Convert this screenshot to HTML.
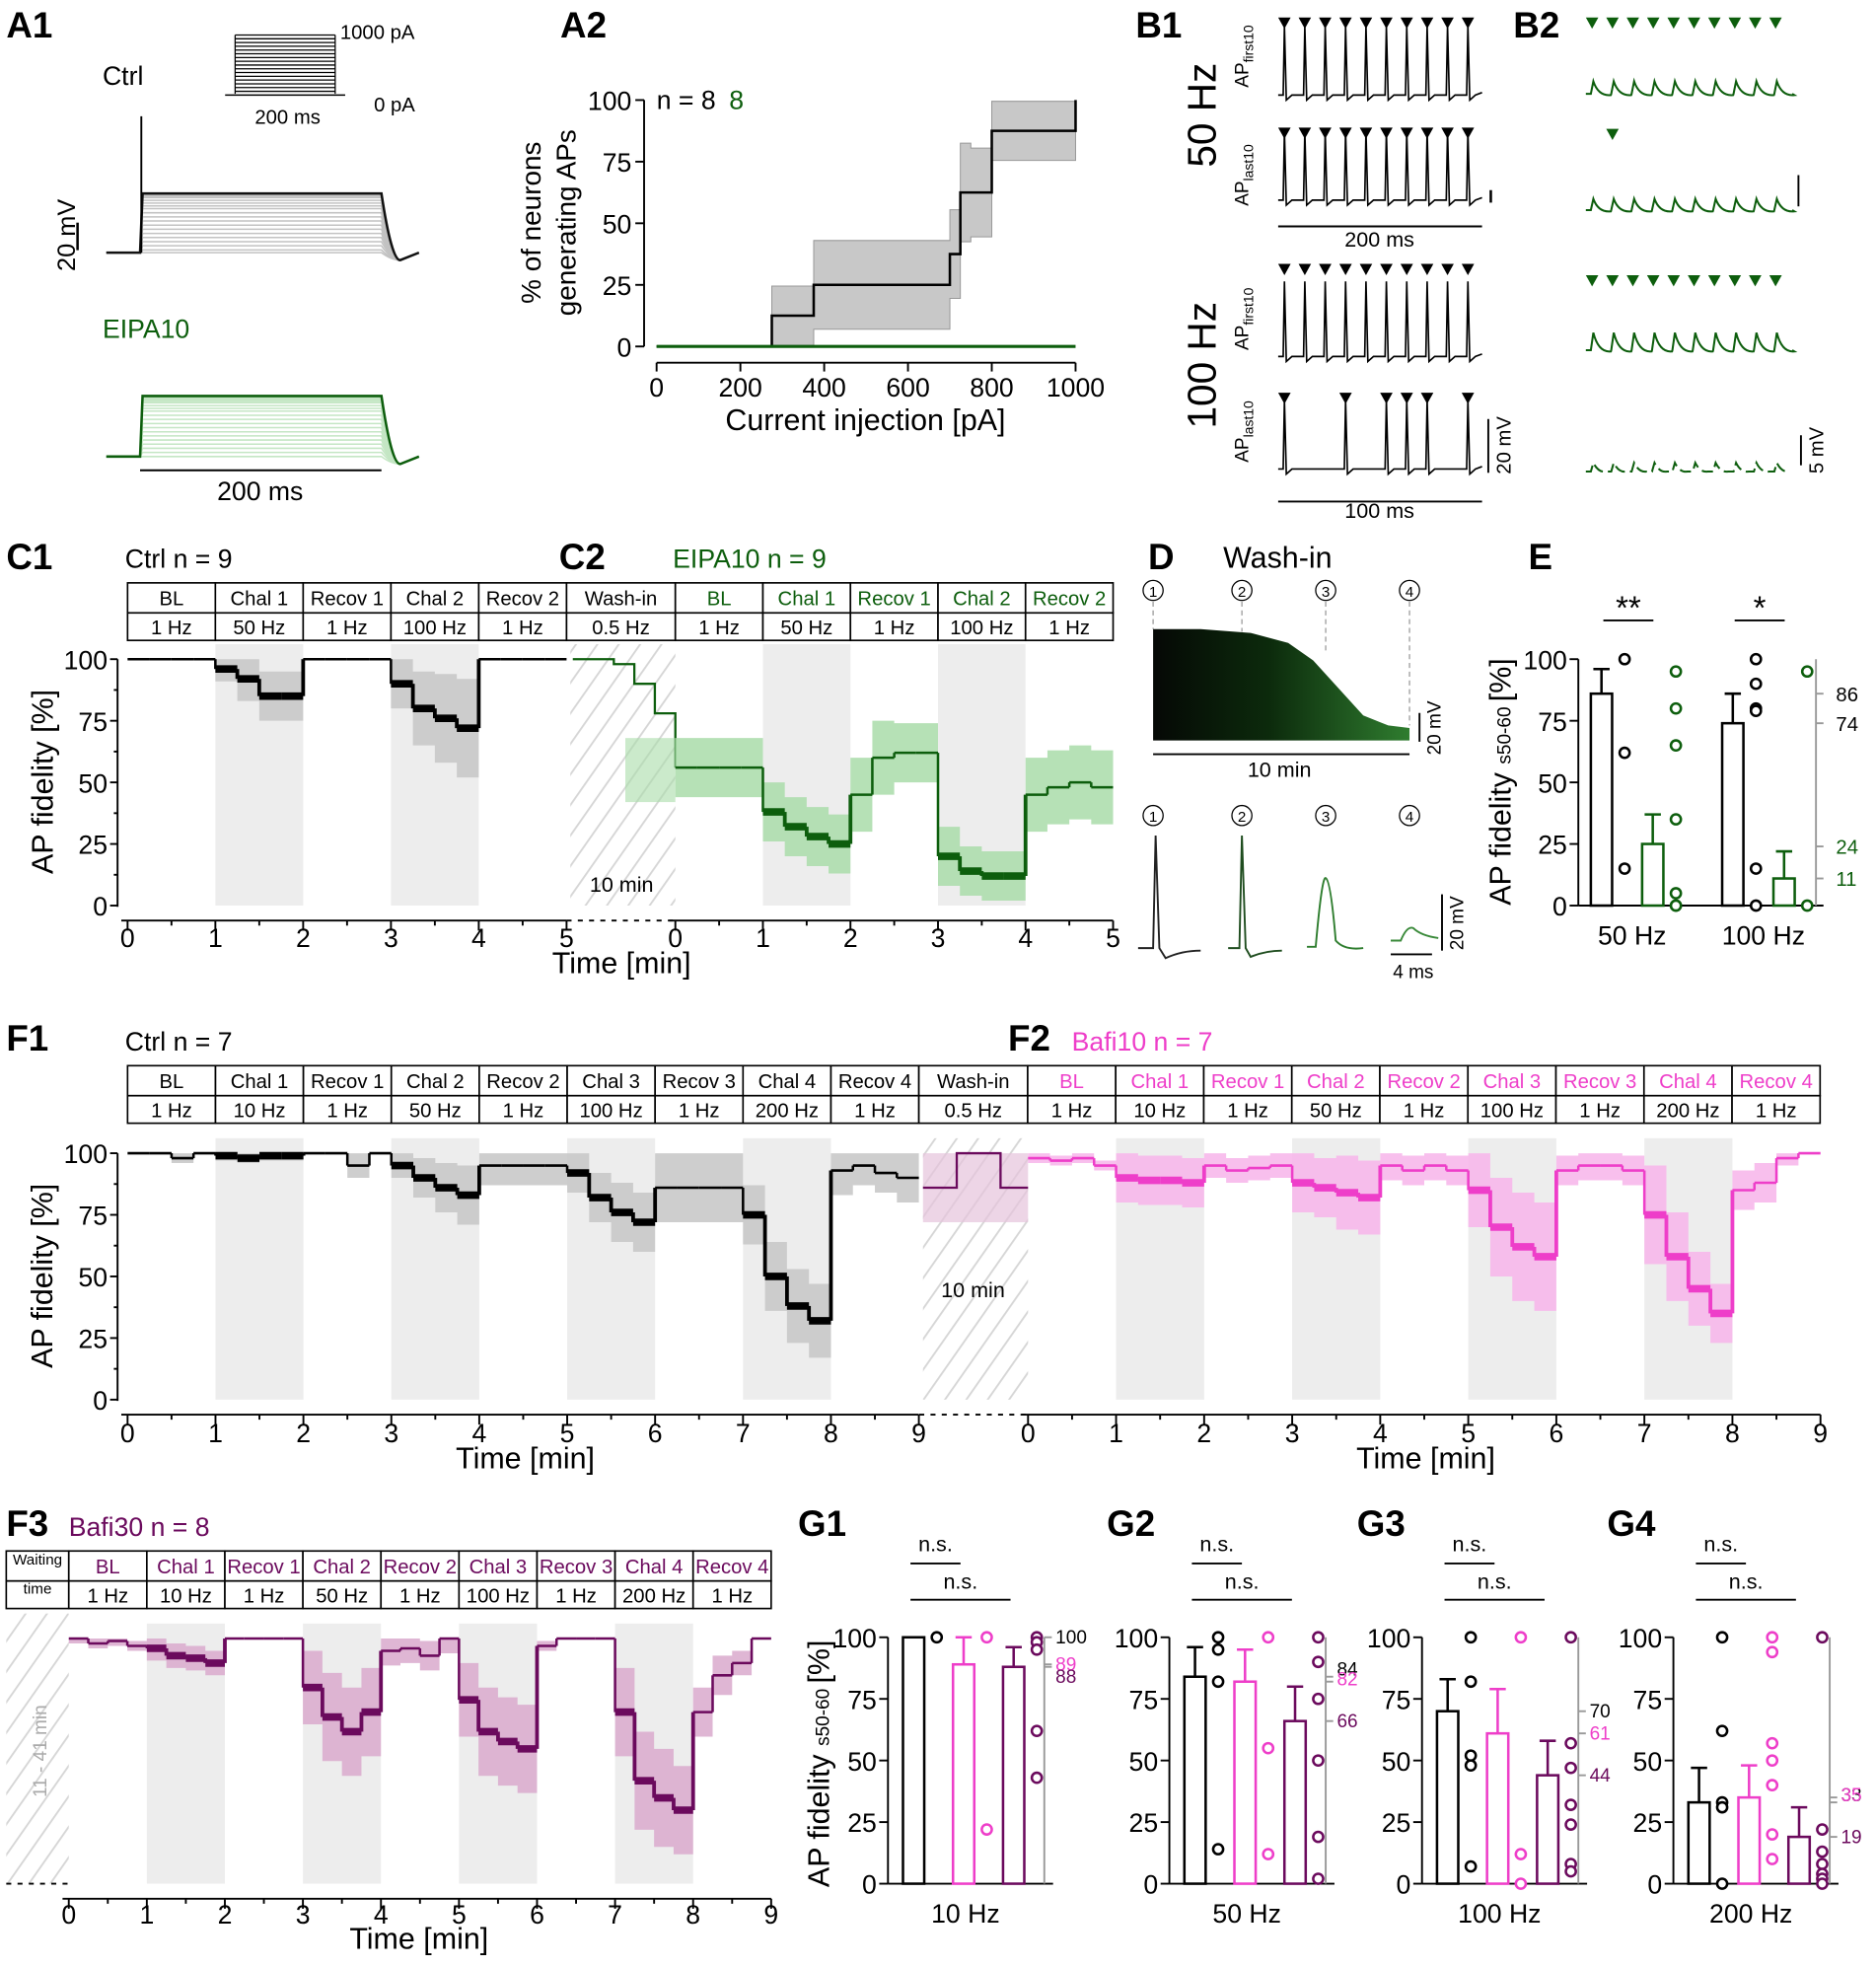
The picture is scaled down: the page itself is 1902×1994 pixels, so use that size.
<!DOCTYPE html>
<html><head><meta charset="utf-8"><title>AP fidelity figure</title>
<style>html,body{margin:0;padding:0;background:#fff}svg{display:block;font-family:"Liberation Sans",Arial,sans-serif}</style>
</head><body>
<svg id="fig" width="1902" height="1994" viewBox="0 0 1500 1572.6" preserveAspectRatio="none" xmlns="http://www.w3.org/2000/svg">
<defs>
<pattern id="hatch" patternUnits="userSpaceOnUse" width="14" height="14" patternTransform="rotate(35)"><rect width="14" height="14" fill="#fff"/><line x1="0" y1="0" x2="0" y2="14" stroke="#d6d6d6" stroke-width="3"/></pattern>
<linearGradient id="washg" x1="0" x2="1" y1="0" y2="0"><stop offset="0" stop-color="#050805"/><stop offset="0.45" stop-color="#0c2a0c"/><stop offset="1" stop-color="#2f7d2f"/></linearGradient>
</defs>
</svg>
<script>
// ---------- data ----------
const aCurrents=[0,250,275,375,650,700,725,750,800,975,1000];
const aCtrlPct=[0,0,12.5,25,25,37.5,62.5,62.5,87.5,87.5,100];
const aCtrlSem=[0,0,12,18,18,18,20,18,12,12,0];
const aEipaPct=[0,0,0,0,0,0,0,0,0,0,0];
const a1CtrlLevels=[0,2,5,8,11,14,17,20,23,26,29,32,34,36,38,40,41,42,43];
const a1EipaLevels=[0,3,6,9,12,15,18,21,24,27,30,33,35,37,39,40,41,42,43,44];
const c1Mean=[100,100,100,100,96,92,85,85,100,100,100,100,90,80,76,72,100,100,100,100,100];
const c1Band=[0,0,0,0,5,9,10,10,0,0,0,0,10,15,18,20,0,0,0,0,0];
const c2Wash=[100,100,98,90,78,56];
const c2Mean=[56,56,56,56,38,32,28,25,45,60,62,62,20,14,12,12,45,48,50,48,48];
const c2Band=[12,12,12,12,12,12,12,12,15,15,12,12,12,10,10,10,15,15,15,15,15];
const f1Mean=[100,100,98,100,99,98,99,99,100,100,95,100,95,90,86,83,95,95,95,95,92,82,76,72,86,86,86,86,75,50,38,32,93,95,92,90,90];
const f1Band=[0,0,2,0,2,2,2,2,0,0,5,0,5,8,10,12,8,8,8,8,8,10,12,12,14,14,14,14,12,14,15,15,10,8,8,10,10];
const f2Mean=[98,97,98,95,90,89,89,88,95,93,94,95,88,86,84,82,95,93,95,93,85,70,62,58,93,95,95,93,75,58,45,35,85,88,98,100,100];
const f2Band=[2,2,2,2,10,10,10,10,5,5,5,5,12,12,15,15,6,6,6,6,15,20,22,22,6,6,6,6,20,18,15,12,8,8,3,0,0];
const f3Mean=[100,98,99,97,96,93,92,90,100,100,100,100,80,68,62,70,95,96,93,100,75,62,58,55,97,100,100,100,70,42,35,30,70,85,90,100,100];
const f3Band=[2,2,2,2,5,5,5,5,0,0,0,0,15,18,18,18,6,6,6,6,15,18,18,18,2,0,0,0,18,20,20,18,10,8,5,0,0];
const eMeans=[86,25,74,11];
const eErr=[96,37,86,22];
const ePoints=[[100,62,15],[95,80,65,35,5,0,0],[100,90,80,79,15,0],[95,0]];
const gFreqs=["10 Hz","50 Hz","100 Hz","200 Hz"];
const gMeans=[[100,89,88],[84,82,66],[70,61,44],[33,35,19]];
const gErr=[[100,100,96],[96,95,80],[83,79,58],[47,48,31]];
const gPoints=[
 [[100],[100,22],[100,98,95,62,43]],
 [[100,95,82,14],[100,55,12],[100,90,75,50,19,2]],
 [[100,82,52,48,7],[100,12,0],[100,57,47,32,24,8,5]],
 [[100,62,33,31,0],[100,94,57,50,40,20,10],[100,22,13,8,4,2,0]]];

// ---------- helpers ----------
const NS="http://www.w3.org/2000/svg";
const svg=document.getElementById('fig');
function el(tag,attrs,name,parent){
 const e=document.createElementNS(NS,tag);
 for(const k in attrs) e.setAttribute(k,attrs[k]);
 
 
 (parent||svg).appendChild(e);
 return e;
}
function tx(x,y,s,size,name,o){
 o=o||{};
 const a={x:x,y:y,'font-size':size,fill:o.fill||'#000','text-anchor':o.anchor||'start'};
 if(o.bold) a['font-weight']='bold';
 if(o.rot!==undefined) a.transform='rotate('+o.rot+' '+x+' '+y+')';
 const t=el('text',a,name,o.parent);
 t.textContent=s;
 return t;
}
function ln(x1,y1,x2,y2,name,o){
 o=o||{};
 return el('line',{x1:x1,y1:y1,x2:x2,y2:y2,stroke:o.stroke||'#000','stroke-width':o.w||1.5,'stroke-dasharray':o.dash||'none'},name);
}
function pth(d,name,o){
 o=o||{};
 return el('path',{d:d,fill:o.fill||'none',stroke:o.stroke||'none','stroke-width':o.w||1.5,opacity:o.op||1},name);
}
const GREEN='#0d5e0d', LGREEN='#a9dca9', PINK='#ee3ec9', LPINK='#f7b4ea', PURP='#6b0a5d', LPURP='#d9a9cd', GRAY='#c6c6c6';

// panel labels
[["A1",5,30],["A2",448,30],["B1",908,30],["B2",1210,30],["C1",5,455],["C2",447,455],["D",918,455],["E",1222,455],["F1",5,840],["F2",806,840],["F3",5,1228],["G1",638,1228],["G2",885,1228],["G3",1085,1228],["G4",1285,1228]].forEach(p=>{
 tx(p[1],p[2],p[0],29,'panel-label-'+p[0].toLowerCase(),{bold:true});
});

// ---------- A1 ----------
(function(){
 const g=el('g',{},'a1-traces');
 const bx0=85,bx1=112,bx2=305,bx3=335;
 function drawSet(levels,base,lightCol,darkCol,name){
  levels.forEach((lv,i)=>{
   const y=base-lv*1.1;
   const d='M'+bx0+' '+base+' L'+bx1+' '+base+' L'+(bx1+2)+' '+y+' L'+bx2+' '+y+' Q'+(bx2+8)+' '+(base+6)+' '+(bx2+15)+' '+(base+6)+' L'+bx3+' '+base;
   const last=i===levels.length-1;
   el('path',{d:d,fill:'none',stroke:last?darkCol:lightCol,'stroke-width':last?2:1.2},name+'-sweep',g);
  });
 }
 drawSet(a1CtrlLevels,202,'#c2c2c2','#111','ctrl');
 ln(113,202,113,93,'ctrl-spike',{w:1.5});
 drawSet(a1EipaLevels,365,'#c4e6c4',GREEN,'eipa');
 tx(82,68,'Ctrl',21,'ctrl-label');
 tx(82,270,'EIPA10',21,'eipa-label',{fill:GREEN});
 for(let i=0;i<16;i++){const y=28+i*3;ln(188,y,268,y,'stim-step',{w:1});}
 ln(188,28,188,75,'stim-edge',{w:1});ln(268,28,268,75,'stim-edge',{w:1});
 ln(180,76,276,76,'stim-base',{w:1.2});
 tx(272,31,'1000 pA',16,'stim-max-label');
 tx(299,89,'0 pA',16,'stim-min-label');
 tx(230,99,'200 ms',16,'stim-time-label',{anchor:'middle'});
 ln(62,178,62,200,'a1-scale-mv',{w:2});
 tx(60,188,'20 mV',20,'a1-scale-mv-label',{rot:-90,anchor:'middle'});
 ln(112,376,305,376,'a1-scale-ms',{w:1.5});
 tx(208,400,'200 ms',21,'a1-scale-ms-label',{anchor:'middle'});
})();

// ---------- A2 ----------
(function(){
 const x0=525,x1=860,y0=277,y1=80;
 const xs=v=>x0+(x1-x0)*v/1000, ys=v=>y0-(y0-y1)*v/100;
 ln(x0,y0+13,x1,y0+13,'a2-x-axis');
 ln(x0-10,y1,x0-10,y0,'a2-y-axis');
 [0,200,400,600,800,1000].forEach(v=>{ln(xs(v),y0+13,xs(v),y0+20,'a2-x-tick');tx(xs(v),y0+40,String(v),21,'a2-x-tick-label',{anchor:'middle'});});
 [0,25,50,75,100].forEach(v=>{ln(x0-17,ys(v),x0-10,ys(v),'a2-y-tick');tx(x0-20,ys(v)+8,String(v),21,'a2-y-tick-label',{anchor:'end'});});
 tx(692,344,'Current injection [pA]',24,'a2-x-title',{anchor:'middle'});
 tx(432,178,'% of neurons',22,'a2-y-title-1',{rot:-90,anchor:'middle'});
 tx(460,178,'generating APs',22,'a2-y-title-2',{rot:-90,anchor:'middle'});
 // step-style band & line
 let up='',lo=[],mid='';
 for(let i=0;i<aCurrents.length-1;i++){
  const xa=xs(aCurrents[i]),xb=xs(aCurrents[i+1]),v=aCtrlPct[i],s=aCtrlSem[i];
  up+=(i?'L':'M')+xa+' '+ys(Math.min(100,v+s))+' L'+xb+' '+ys(Math.min(100,v+s))+' ';
  lo.push(xa+' '+ys(Math.max(0,v-s)));lo.push(xb+' '+ys(Math.max(0,v-s)));
  mid+=(i?'L':'M')+xa+' '+ys(v)+' L'+xb+' '+ys(v)+' ';
 }
 const n=aCurrents.length-1;
 mid+='L'+xs(aCurrents[n])+' '+ys(aCtrlPct[n]);
 pth(up+'L'+lo.reverse().join(' L')+' Z','a2-ctrl-band',{fill:'#c8c8c8',stroke:'#999',w:0.8});
 pth(mid,'a2-ctrl-line',{stroke:'#000',w:2});
 pth('M'+aCurrents.map((c,i)=>xs(c)+' '+ys(aEipaPct[i])).join(' L'),'a2-eipa-line',{stroke:GREEN,w:2.5});
 tx(525,87,'n = 8',21,'a2-n-ctrl');
 tx(583,87,'8',21,'a2-n-eipa',{fill:GREEN});
})();

// ---------- B1 / B2 ----------
(function(){
 function spikes(x0,yb,times,h,col,name,thin){
  let d='M'+x0+' '+yb;
  times.forEach(t=>{const x=x0+5+t*16.3;d+=' L'+(x-1)+' '+yb+' L'+x+' '+(yb-h)+' L'+(x+1.5)+' '+(yb+4)+' L'+(x+6)+' '+yb;});
  d+=' L'+(x0+163)+' '+(yb-2);
  pth(d,name,{stroke:col,w:thin||1.3});
 }
 function tris(x0,y,idx,col,name){idx.forEach(i=>{const x=x0+5+i*16.3;pth('M'+(x-5)+' '+y+' L'+(x+5)+' '+y+' L'+x+' '+(y+9)+' Z',name,{fill:col});});}
 const all=[0,1,2,3,4,5,6,7,8,9];
 const bx=1022;
 tris(bx,14,all,'#000','b1-50hz-first-marker');spikes(bx,76,all,55,'#000','b1-50hz-first-trace');
 tris(bx,102,all,'#000','b1-50hz-last-marker');spikes(bx,160,all,55,'#000','b1-50hz-last-trace');
 tris(bx,211,all,'#000','b1-100hz-first-marker');spikes(bx,285,all,60,'#000','b1-100hz-first-trace');
 tris(bx,314,[0,3,5,6,7,9],'#000','b1-100hz-last-marker');spikes(bx,375,[0,3,5,6,7,9],55,'#000','b1-100hz-last-trace');
 ln(1022,181,1185,181,'b1-scale-200ms');tx(1103,197,'200 ms',17,'b1-scale-200ms-label',{anchor:'middle'});
 ln(1022,401,1185,401,'b1-scale-100ms');tx(1103,414,'100 ms',17,'b1-scale-100ms-label',{anchor:'middle'});
 ln(1192,152,1192,162,'b1-scale-mv',{w:2});
 ln(1190,335,1190,378,'b1-scale-20mv',{w:1.5});tx(1208,356,'20 mV',16,'b1-scale-20mv-label',{rot:-90,anchor:'middle'});
 tx(972,92,'50 Hz',32,'b1-50hz-label',{rot:-90,anchor:'middle'});
 tx(972,292,'100 Hz',32,'b1-100hz-label',{rot:-90,anchor:'middle'});
 [['AP',75,'first10',45],['AP',162,'last10',140],['AP',287,'first10',255],['AP',378,'last10',345]].forEach((a,i)=>{
  const t=tx(998,a[3],'AP',15,'b1-trace-label',{rot:-90,anchor:'middle'});
  const s=document.createElementNS(NS,'tspan');s.setAttribute('font-size','11');s.setAttribute('dy','4');s.textContent=a[2];t.appendChild(s);
 });
 const gx=1268;
 function bumps(x0,yb,n,amp,name){
  let d='M'+x0+' '+yb;
  for(let i=0;i<n;i++){const x=x0+4+i*16.3;d+=' L'+x+' '+yb+' L'+(x+2)+' '+(yb-amp)+' Q'+(x+6)+' '+(yb+2)+' '+(x+16)+' '+(yb+1);}
  d+=' L'+(x0+165)+' '+yb;
  pth(d,name,{stroke:GREEN,w:1.6});
 }
 tris(gx,14,all,GREEN,'b2-50hz-first-marker');bumps(gx,75,10,10,'b2-50hz-first-trace');
 tris(gx,103,[1],GREEN,'b2-50hz-last-marker');bumps(gx,168,10,9,'b2-50hz-last-trace');
 tris(gx,220,all,GREEN,'b2-100hz-first-marker');bumps(gx,280,10,14,'b2-100hz-first-trace');
 el('path',{d:'M1268 377 '+all.map(i=>'L'+(1272+i*16.3)+' 377 L'+(1274+i*16.3)+' 370 Q'+(1278+i*16.3)+' 378 '+(1284+i*16.3)+' 377').join(' '),fill:'none',stroke:GREEN,'stroke-width':1.6,'stroke-dasharray':'9 4'},'b2-100hz-last-trace');
 ln(1438,140,1438,165,'b2-scale-mv',{w:1.5});
 ln(1440,348,1440,372,'b2-scale-5mv',{w:1.5});tx(1458,360,'5 mV',16,'b2-scale-5mv-label',{rot:-90,anchor:'middle'});
})();

// ---------- tables ----------
function table(x0,widths,r1,r2,cols,y0,name,fs){
 let x=x0;
 widths.forEach((w,i)=>{
  el('rect',{x:x,y:y0,width:w,height:24,fill:'#fff',stroke:'#000','stroke-width':1.3},name+'-cell');
  el('rect',{x:x,y:y0+24,width:w,height:22,fill:'#fff',stroke:'#000','stroke-width':1.3},name+'-cell');
  const lines=r1[i].split('\n');
  if(lines.length>1){tx(x+w/2,y0+11,lines[0],12,name+'-header',{anchor:'middle',fill:cols[i]});tx(x+w/2,y0+34,lines[1],12,name+'-header',{anchor:'middle',fill:cols[i]});}
  else tx(x+w/2,y0+18,r1[i],fs||16,name+'-header',{anchor:'middle',fill:cols[i]});
  if(r2[i]) tx(x+w/2,y0+41,r2[i],fs||16,name+'-freq',{anchor:'middle'});
  x+=w;
 });
}
function tAxis(x0,ppm,n,y100,y0,yLabels,name,labelsY){
 const ys=v=>y0-(y0-y100)*v/100;
 ln(x0-5,y0+12,x0+n*ppm,y0+12,name+'-x-axis');
 for(let m=0;m<=n;m++){ln(x0+m*ppm,y0+12,x0+m*ppm,y0+20,name+'-x-tick');if(m<n)ln(x0+(m+0.5)*ppm,y0+12,x0+(m+0.5)*ppm,y0+16,name+'-x-minor-tick');tx(x0+m*ppm,labelsY,String(m),21,name+'-x-tick-label',{anchor:'middle'});}
 if(yLabels!==null){
  ln(x0-8,y100,x0-8,y0+1,name+'-y-axis');
  [0,25,50,75,100].forEach(v=>{ln(x0-14,ys(v),x0-8,ys(v),name+'-y-tick');if(yLabels)tx(x0-16,ys(v)+8,String(v),21,name+'-y-tick-label',{anchor:'end'});});
  [12.5,37.5,62.5,87.5].forEach(v=>ln(x0-11,ys(v),x0-8,ys(v),name+'-y-minor-tick'));
 }
}
function shade(x0,ppm,mins,y100,y0,name){mins.forEach(m=>el('rect',{x:x0+m*ppm,y:y100-12,width:ppm,height:y0-y100+12,fill:'#ededed'},name));}
function trace(mean,band,x0,ppm,y100,y0,col,bcol,chal,name){
 const ys=v=>y0-(y0-y100)*v/100, st=0.25;
 let up='',lo=[];
 for(let i=0;i<mean.length-1;i++){
  const xa=x0+i*st*ppm, xb=x0+(i+1)*st*ppm;
  up+=(i?'L':'M')+xa+' '+ys(Math.min(100,mean[i]+band[i]))+' L'+xb+' '+ys(Math.min(100,mean[i]+band[i]))+' ';
  lo.push(xa+' '+ys(mean[i]-band[i]));lo.push(xb+' '+ys(mean[i]-band[i]));
 }
 pth(up+'L'+lo.reverse().join(' L')+' Z',name+'-band',{fill:bcol,op:0.85});
 for(let i=0;i<mean.length-1;i++){
  const xa=x0+i*st*ppm, xb=x0+(i+1)*st*ppm;
  const inChal=chal.indexOf(Math.floor(i*st))>=0;
  el('line',{x1:xa,y1:ys(mean[i]),x2:xb,y2:ys(mean[i]),stroke:col,'stroke-width':inChal?6:2},name+'-segment');
  el('line',{x1:xb,y1:ys(mean[i]),x2:xb,y2:ys(mean[i+1]),stroke:col,'stroke-width':inChal?3:2},name+'-step');
 }
}

// ---------- C ----------
(function(){
 const y100=527,y0=724,p1=70.2,x1=102,x2=540,p2=70;
 tx(100,454,'Ctrl n = 9',21,'c1-title');
 tx(538,454,'EIPA10 n = 9',21,'c2-title',{fill:GREEN});
 const K='#000';
 table(102,[p1,p1,p1,p1,p1,87,p2,p2,p2,p2,p2],['BL','Chal 1','Recov 1','Chal 2','Recov 2','Wash-in','BL','Chal 1','Recov 1','Chal 2','Recov 2'],['1 Hz','50 Hz','1 Hz','100 Hz','1 Hz','0.5 Hz','1 Hz','50 Hz','1 Hz','100 Hz','1 Hz'],[K,K,K,K,K,K,GREEN,GREEN,GREEN,GREEN,GREEN],466,'c-table');
 shade(x1,p1,[1,3],y100,y0,'c1-challenge-shade');shade(x2,p2,[1,3],y100,y0,'c2-challenge-shade');
 el('rect',{x:456,y:y100-12,width:84,height:y0-y100+12,fill:'url(#hatch)'},'c-washin-hatch');
 tAxis(x1,p1,5,y100,y0,true,'c1',757);
 tAxis(x2,p2,5,y100,y0,null,'c2',757);
 ln(453,736,540,736,'c-washin-gap',{dash:'4 5'});
 tx(497,713,'10 min',17,'c-washin-label',{anchor:'middle'});
 tx(42,625,'AP fidelity [%]',24,'c-y-title',{rot:-90,anchor:'middle'});
 tx(497,778,'Time [min]',24,'c-x-title',{anchor:'middle'});
 trace(c1Mean,c1Band,x1,p1,y100,y0,'#000',GRAY,[1,3],'c1-trace');
 const ys=v=>y0-(y0-y100)*v/100;
 const wx=458, ws=(540-458)/(c2Wash.length-1);
 let wd='M'+wx+' '+ys(c2Wash[0]);
 c2Wash.forEach((v,i)=>{if(i)wd+=' L'+(wx+i*ws)+' '+ys(c2Wash[i-1])+' L'+(wx+i*ws)+' '+ys(v);});
 pth(wd,'c2-washin-trace',{stroke:GREEN,w:1.8});
 el('rect',{x:500,y:ys(68),width:40,height:ys(42)-ys(68),fill:LGREEN,opacity:0.6},'c2-washin-band');
 trace(c2Mean,c2Band,x2,p2,y100,y0,GREEN,LGREEN,[1,3],'c2-trace');
})();

// ---------- D ----------
(function(){
 tx(978,454,'Wash-in',24,'d-title');
 const cx=[922,993,1060,1127];
 cx.forEach((x,i)=>{
  el('circle',{cx:x,cy:472,r:8,fill:'none',stroke:'#000','stroke-width':1},'d-marker-circle');
  tx(x,477,String(i+1),12,'d-marker-number',{anchor:'middle'});
  ln(x,481,x,[503,505,520,580][i],'d-marker-line',{stroke:'#999',dash:'4 3',w:1});
  el('circle',{cx:x,cy:652,r:8,fill:'none',stroke:'#000','stroke-width':1},'d-lower-circle');
  tx(x,657,String(i+1),12,'d-lower-number',{anchor:'middle'});
 });
 pth('M922 503 L960 503 L1000 506 L1030 514 L1050 528 L1070 550 L1090 572 L1110 580 L1127 582 L1127 592 L922 592 Z','d-washin-envelope',{fill:'url(#washg)'});
 ln(922,603,1127,603,'d-scale-10min');tx(1023,621,'10 min',17,'d-scale-10min-label',{anchor:'middle'});
 ln(1135,570,1135,593,'d-scale-20mv');tx(1152,582,'20 mV',15,'d-scale-20mv-label',{rot:-90,anchor:'middle'});
 pth('M910 758 L922 758 L924 668 L927 758 L932 766 Q945 760 960 760','d-ap-1',{stroke:'#222',w:1.5});
 pth('M982 758 L991 758 L993 668 L996 758 L1000 765 Q1012 760 1025 760','d-ap-2',{stroke:'#1f4d1f',w:1.5});
 pth('M1045 757 L1052 757 Q1057 700 1060 702 Q1064 704 1068 752 Q1075 760 1090 758','d-ap-3',{stroke:'#2e7d2e',w:1.5});
 pth('M1112 752 L1120 752 Q1125 740 1130 742 Q1136 748 1150 750','d-ap-4',{stroke:'#3a8a3a',w:1.5});
 ln(1153,715,1153,760,'d-scale-20mv-ap');tx(1170,738,'20 mV',15,'d-scale-ap-label',{rot:-90,anchor:'middle'});
 ln(1112,763,1145,763,'d-scale-4ms');tx(1130,782,'4 ms',15,'d-scale-4ms-label',{anchor:'middle'});
})();

// ---------- bar panels ----------
function barPanel(ax,y100,y0,bars,means,errs,pts,cols,rightX,labels,labCols,name,ptsOff){
 const ys=v=>y0-(y0-y100)*v/100;
 ln(ax,y100,ax,y0,name+'-y-axis');
 [0,25,50,75,100].forEach(v=>{ln(ax-7,ys(v),ax,ys(v),name+'-y-tick');tx(ax-9,ys(v)+8,String(v),21,name+'-y-tick-label',{anchor:'end'});});
 ln(ax,y0,bars[bars.length-1]+40,y0,name+'-x-axis');
 bars.forEach((bx,i)=>{
  el('rect',{x:bx,y:ys(means[i]),width:17,height:y0-ys(means[i]),fill:'#fff',stroke:cols[i],'stroke-width':2},name+'-bar');
  if(errs[i]>means[i]){ln(bx+8.5,ys(means[i]),bx+8.5,ys(errs[i]),name+'-error-bar',{stroke:cols[i],w:2});ln(bx+2,ys(errs[i]),bx+15,ys(errs[i]),name+'-error-cap',{stroke:cols[i],w:2});}
  pts[i].forEach(v=>el('circle',{cx:bx+(ptsOff||27),cy:ys(v),r:4,fill:'#fff',stroke:cols[i],'stroke-width':2},name+'-point'));
 });
 if(rightX){
  ln(rightX,y100,rightX,y0,name+'-right-axis',{stroke:'#999'});
  labels.forEach((v,i)=>{ln(rightX,ys(v),rightX+6,ys(v),name+'-right-tick',{stroke:'#999'});tx(rightX+9,ys(v)+5+(i===1&&Math.abs(labels[0]-labels[1])<5?-2:0)+(i===2&&Math.abs(labels[2]-labels[1])<5?8:0)+(i===0&&Math.abs(labels[0]-labels[1])<5?-6:0),String(v),15,name+'-mean-label',{fill:labCols[i]});});
 }
}
(function(){
 const y100=527,y0=724,ys=v=>y0-(y0-y100)*v/100;
 barPanel(1262,y100,y0,[1272,1313,1377,1418],eMeans,eErr,ePoints,['#000',GREEN,'#000',GREEN],null,[],[],'e',27);
 ln(1452,y100,1452,y0,'e-right-axis',{stroke:'#999'});
 [86,74,24,11].forEach((v,i)=>{ln(1452,ys(v),1458,ys(v),'e-right-tick',{stroke:'#999'});tx(1468,ys(v)+6,String(v),16,'e-mean-label',{fill:i<2?'#000':GREEN});});
 ln(1282,496,1322,496,'e-sig-line-50');tx(1302,495,'**',26,'e-sig-50',{anchor:'middle'});
 ln(1387,496,1427,496,'e-sig-line-100');tx(1407,495,'*',26,'e-sig-100',{anchor:'middle'});
 tx(1305,755,'50 Hz',21,'e-x-label-50',{anchor:'middle'});
 tx(1410,755,'100 Hz',21,'e-x-label-100',{anchor:'middle'});
 const t=tx(1208,625,'AP fidelity ',24,'e-y-title',{rot:-90,anchor:'middle'});
 const s=document.createElementNS(NS,'tspan');s.setAttribute('font-size','15');s.textContent='s50-60 ';t.appendChild(s);
 const s2=document.createElementNS(NS,'tspan');s2.setAttribute('font-size','24');s2.textContent='[%]';t.appendChild(s2);
})();

// ---------- F1/F2 ----------
(function(){
 const y100=922,y0=1119,p1=70.3,x1=102,x2=822,p2=70.4;
 tx(100,840,'Ctrl n = 7',21,'f1-title');
 tx(857,840,'Bafi10 n = 7',21,'f2-title',{fill:PINK});
 const K='#000',P=PINK;
 const r1=['BL','Chal 1','Recov 1','Chal 2','Recov 2','Chal 3','Recov 3','Chal 4','Recov 4'];
 const r2=['1 Hz','10 Hz','1 Hz','50 Hz','1 Hz','100 Hz','1 Hz','200 Hz','1 Hz'];
 table(102,Array(9).fill(p1).concat([87]).concat(Array(9).fill(p2)),r1.concat(['Wash-in']).concat(r1),r2.concat(['0.5 Hz']).concat(r2),Array(10).fill(K).concat(Array(9).fill(P)),852,'f-table');
 shade(x1,p1,[1,3,5,7],y100,y0,'f1-challenge-shade');shade(x2,p2,[1,3,5,7],y100,y0,'f2-challenge-shade');
 el('rect',{x:738,y:y100-12,width:84,height:y0-y100+12,fill:'url(#hatch)'},'f-washin-hatch');
 tAxis(x1,p1,9,y100,y0,true,'f1',1153);
 tAxis(x2,p2,9,y100,y0,null,'f2',1153);
 ln(735,1131,822,1131,'f-washin-gap',{dash:'4 5'});
 tx(778,1037,'10 min',17,'f-washin-label',{anchor:'middle'});
 tx(42,1020,'AP fidelity [%]',24,'f-y-title',{rot:-90,anchor:'middle'});
 tx(420,1174,'Time [min]',24,'f1-x-title',{anchor:'middle'});
 tx(1140,1174,'Time [min]',24,'f2-x-title',{anchor:'middle'});
 trace(f1Mean,f1Band,x1,p1,y100,y0,'#000',GRAY,[1,3,5,7],'f1-trace');
 const ys=v=>y0-(y0-y100)*v/100;
 el('rect',{x:738,y:ys(100),width:84,height:ys(72)-ys(100),fill:'#e6c3dc',opacity:0.7},'f-washin-band');
 pth('M738 '+ys(86)+' L765 '+ys(86)+' L765 '+ys(100)+' L800 '+ys(100)+' L800 '+ys(86)+' L822 '+ys(86),'f-washin-trace',{stroke:PURP,w:1.8});
 trace(f2Mean,f2Band,x2,p2,y100,y0,PINK,LPINK,[1,3,5,7],'f2-trace');
})();

// ---------- F3 ----------
(function(){
 const y100=1310,y0=1506,p=62.4,x0=55;
 tx(55,1228,'Bafi30 n = 8',21,'f3-title',{fill:PURP});
 const r1=['Waiting\ntime','BL','Chal 1','Recov 1','Chal 2','Recov 2','Chal 3','Recov 3','Chal 4','Recov 4'];
 const r2=['','1 Hz','10 Hz','1 Hz','50 Hz','1 Hz','100 Hz','1 Hz','200 Hz','1 Hz'];
 const c=['#000'].concat(Array(9).fill(PURP));
 table(5,[50].concat(Array(9).fill(p)),r1,r2,c,1240,'f3-table',16);
 shade(x0,p,[1,3,5,7],y100,y0,'f3-challenge-shade');
 el('rect',{x:5,y:1290,width:50,height:216,fill:'url(#hatch)'},'f3-waiting-hatch');
 tx(37,1400,'11 - 41 min',15,'f3-waiting-label',{rot:-90,anchor:'middle',fill:'#aaa'});
 ln(5,1506,55,1506,'f3-waiting-gap',{dash:'4 5'});
 tAxis(x0,p,9,y100,y0,null,'f3',1538);
 tx(335,1558,'Time [min]',24,'f3-x-title',{anchor:'middle'});
 trace(f3Mean,f3Band,x0,p,y100,y0,PURP,LPURP,[1,3,5,7],'f3-trace');
})();

// ---------- G ----------
(function(){
 const y100=1309,y0=1506;
 const axes=[710,935,1137,1338];
 axes.forEach((ax,k)=>{
  const b=[ax+12,ax+52,ax+92];
  barPanel(ax,y100,y0,b,gMeans[k],gErr[k],gPoints[k],['#000',PINK,PURP],ax+125,gMeans[k],['#000',PINK,PURP],'g'+(k+1));
  tx(ax+38,1240,'n.s.',17,'g'+(k+1)+'-ns-1',{anchor:'middle'});
  ln(ax+18,1250,ax+58,1250,'g'+(k+1)+'-ns-line-1');
  tx(ax+58,1270,'n.s.',17,'g'+(k+1)+'-ns-2',{anchor:'middle'});
  ln(ax+18,1279,ax+98,1279,'g'+(k+1)+'-ns-line-2');
  tx(ax+62,1537,gFreqs[k],21,'g'+(k+1)+'-x-label',{anchor:'middle'});
 });
 const t=tx(663,1410,'AP fidelity ',24,'g-y-title',{rot:-90,anchor:'middle'});
 const s=document.createElementNS(NS,'tspan');s.setAttribute('font-size','15');s.textContent='s50-60 ';t.appendChild(s);
 const s2=document.createElementNS(NS,'tspan');s2.setAttribute('font-size','24');s2.textContent='[%]';t.appendChild(s2);
})();
</script>
</body></html>
